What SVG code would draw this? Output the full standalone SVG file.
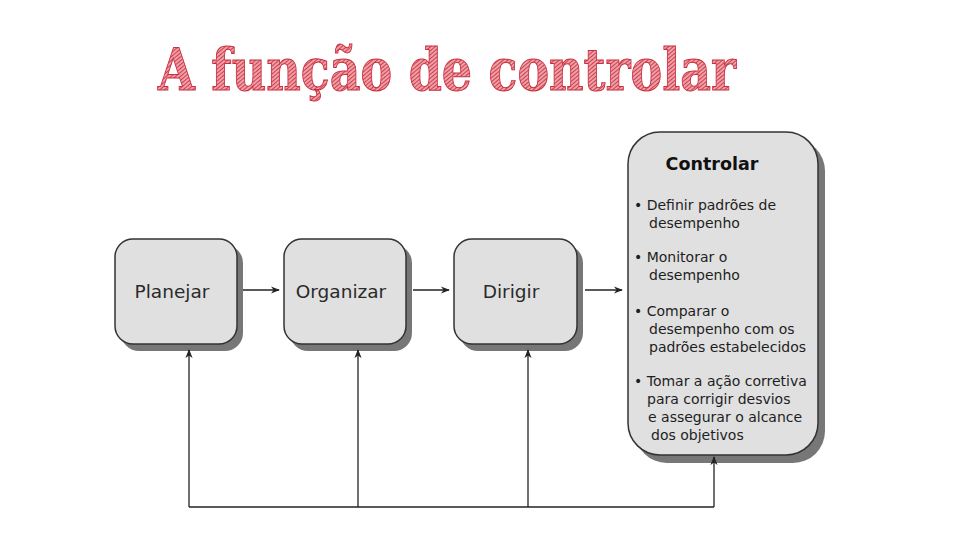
<svg xmlns="http://www.w3.org/2000/svg" width="960" height="540" viewBox="0 0 960 540">
  <defs>
    <pattern id="hatch" width="3" height="3" patternUnits="userSpaceOnUse" patternTransform="rotate(50)">
      <rect width="3" height="3" fill="#eca0a8"/>
      <line x1="0" y1="0" x2="0" y2="3" stroke="#cf3343" stroke-width="1.8"/>
    </pattern>
    <marker id="arrow" viewBox="0 0 10 10" refX="9" refY="5" markerWidth="9" markerHeight="9" markerUnits="userSpaceOnUse" orient="auto">
      <path d="M0,1 L10,5 L0,9 L3,5 Z" fill="#222"/>
    </marker>
  </defs>
  <style>
    .title { font-family: "DejaVu Serif", "Liberation Serif", serif; font-weight: bold; font-size: 57px; fill: url(#hatch); stroke: #c92f3e; stroke-width: 1; }
    .shadow { fill: #777; }
    .box { fill: #e0e0e0; stroke: #333; stroke-width: 1.5; }
    .label { font-family: "DejaVu Sans", Verdana, sans-serif; font-size: 18.5px; fill: #2a2a2a; text-anchor: middle; }
    .head { font-family: "DejaVu Sans", Verdana, sans-serif; font-size: 17.5px; font-weight: bold; fill: #111; text-anchor: middle; }
    .item { font-family: "DejaVu Sans", Verdana, sans-serif; font-size: 14px; fill: #1e1e1e; }
    .conn { fill: none; stroke: #222; stroke-width: 1.3; }
  </style>
  <rect width="960" height="540" fill="#ffffff"/>

  <text class="title" x="158" y="90" textLength="578" lengthAdjust="spacingAndGlyphs">A função de controlar</text>

  <g id="planejar">
    <rect class="shadow" x="121" y="245" width="122" height="106" rx="18"/>
    <rect class="box" x="115" y="239" width="122" height="105" rx="18"/>
    <text class="label" x="172" y="298">Planejar</text>
  </g>
  <g id="organizar">
    <rect class="shadow" x="290" y="245" width="122" height="106" rx="18"/>
    <rect class="box" x="284" y="239" width="122" height="105" rx="18"/>
    <text class="label" x="341" y="298">Organizar</text>
  </g>
  <g id="dirigir">
    <rect class="shadow" x="460" y="245" width="123" height="106" rx="18"/>
    <rect class="box" x="454" y="239" width="123" height="105" rx="18"/>
    <text class="label" x="511" y="298">Dirigir</text>
  </g>
  <g id="controlar">
    <rect class="shadow" x="635" y="139" width="190" height="324" rx="32"/>
    <rect class="box" x="628" y="132" width="190" height="323" rx="32"/>
    <text class="head" x="712" y="170">Controlar</text>
    <text class="item">
      <tspan x="634" y="210">• Definir  padrões de</tspan>
      <tspan x="649" y="228">desempenho</tspan>
      <tspan x="634" y="262">• Monitorar o</tspan>
      <tspan x="649" y="280">desempenho</tspan>
      <tspan x="634" y="316">• Comparar o</tspan>
      <tspan x="649" y="334">desempenho com os</tspan>
      <tspan x="649" y="352">padrões estabelecidos</tspan>
      <tspan x="634" y="386">• Tomar a ação corretiva</tspan>
      <tspan x="647" y="404">para corrigir desvios</tspan>
      <tspan x="648" y="422">e assegurar o alcance</tspan>
      <tspan x="651" y="440">dos objetivos</tspan>
    </text>
  </g>

  <g id="connectors">
    <line class="conn" x1="243" y1="290" x2="279" y2="290" marker-end="url(#arrow)"/>
    <line class="conn" x1="413" y1="290" x2="449" y2="290" marker-end="url(#arrow)"/>
    <line class="conn" x1="585" y1="290" x2="622" y2="290" marker-end="url(#arrow)"/>
    <polyline class="conn" points="189,507 714,507"/>
    <line class="conn" x1="189" y1="507" x2="189" y2="350" marker-end="url(#arrow)"/>
    <line class="conn" x1="358" y1="507" x2="358" y2="350" marker-end="url(#arrow)"/>
    <line class="conn" x1="528" y1="507" x2="528" y2="350" marker-end="url(#arrow)"/>
    <line class="conn" x1="714" y1="507" x2="714" y2="457" marker-end="url(#arrow)"/>
  </g>
</svg>
